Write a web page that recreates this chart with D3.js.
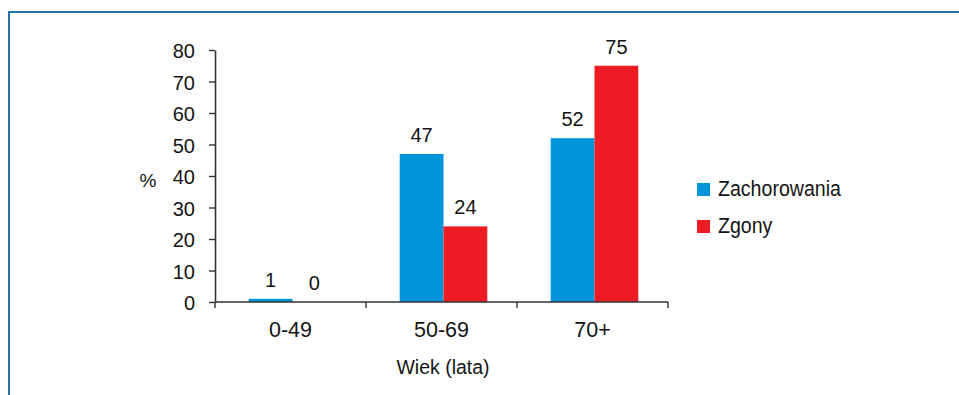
<!DOCTYPE html>
<html>
<head>
<meta charset="utf-8">
<script src="https://cdn.jsdelivr.net/npm/d3@7"></script>
<style>
  html, body { margin: 0; padding: 0; background: #fff; }
  svg { display: block; }
  text { font-family: "Liberation Sans", Arial, sans-serif; fill: #141414; }
</style>
</head>
<body>
<svg id="chart" width="959" height="395"></svg>
<script>
// Age groups and the share (%) of cases and deaths in each
const categories = ["0-49", "50-69", "70+"];
const seriesNames = ["Zachorowania", "Zgony"];
const zachorowania = [1, 47, 52];
const zgony = [0, 24, 75];
const yTicks = [0, 10, 20, 30, 40, 50, 60, 70, 80];
const colors = ["#0095da", "#ed1c24"];

const rows = categories.map((c, i) => ({ cat: c, values: [zachorowania[i], zgony[i]] }));

const svg = d3.select("#chart");

// Outer frame (left and top edges visible)
svg.append("path")
  .attr("d", "M9,395 L9,12 L959,12")
  .attr("fill", "none")
  .attr("stroke", "#2474a2")
  .attr("stroke-width", 2);

const x0 = d3.scaleBand().domain(categories).range([215, 668]).paddingInner(0.42).paddingOuter(0.21);
const x1 = d3.scaleBand().domain(seriesNames).range([0, x0.bandwidth()]);
const y = d3.scaleLinear().domain([0, 80]).range([302, 50]);

// Bars
const groups = svg.append("g").selectAll("g").data(rows).join("g")
  .attr("transform", d => `translate(${x0(d.cat) + 2},0)`);

groups.selectAll("rect").data(d => d.values.map((v, j) => ({ v, j })))
  .join("rect")
  .attr("x", d => x1(seriesNames[d.j]))
  .attr("width", x1.bandwidth())
  .attr("y", d => y(d.v))
  .attr("height", d => y(0) - y(d.v))
  .attr("fill", d => colors[d.j]);

groups.selectAll("text").data(d => d.values.map((v, j) => ({ v, j })))
  .join("text")
  .attr("x", d => x1(seriesNames[d.j]) + x1.bandwidth() / 2)
  .attr("y", d => y(d.v) - 12)
  .attr("text-anchor", "middle")
  .attr("font-size", 20)
  .text(d => d.v);

// Y axis
const yAxis = svg.append("g")
  .attr("transform", "translate(215,0)")
  .call(d3.axisLeft(y).tickValues(yTicks).tickSize(6).tickPadding(14).tickSizeOuter(0));
yAxis.select(".domain").attr("stroke", "#333").attr("stroke-width", 1.6);
yAxis.selectAll(".tick line").attr("stroke", "#333").attr("stroke-width", 1.4);
yAxis.selectAll(".tick text")
  .attr("font-size", 20)
  .attr("font-family", "Liberation Sans, Arial, sans-serif")
  .attr("fill", "#141414")
  .attr("dy", "0.38em");

// X axis with ticks at category boundaries
const [xStart, xEnd] = x0.range();
const halfGap = x0.step() * x0.paddingInner() / 2;
const boundaries = categories.map(c => x0(c) - halfGap);
boundaries.push(xEnd);
const xg = svg.append("g");
xg.append("line")
  .attr("x1", xStart).attr("x2", xEnd)
  .attr("y1", y(0)).attr("y2", y(0))
  .attr("stroke", "#333").attr("stroke-width", 1.6);
xg.selectAll("line.tick").data(boundaries).join("line")
  .attr("class", "tick")
  .attr("x1", d => d).attr("x2", d => d)
  .attr("y1", y(0)).attr("y2", y(0) + 6)
  .attr("stroke", "#333").attr("stroke-width", 1.4);
xg.selectAll("text").data(categories).join("text")
  .attr("x", d => x0(d) + x0.bandwidth() / 2)
  .attr("y", 337)
  .attr("text-anchor", "middle")
  .attr("font-size", 21.5)
  .text(d => d);

// Axis titles
svg.append("text")
  .attr("x", 148).attr("y", 187)
  .attr("text-anchor", "middle")
  .attr("font-size", 19)
  .text("%");
svg.append("text")
  .attr("x", 443).attr("y", 374)
  .attr("text-anchor", "middle")
  .attr("font-size", 19.5)
  .text("Wiek (lata)");

// Legend
const legend = svg.append("g").selectAll("g").data(seriesNames).join("g")
  .attr("transform", (d, i) => `translate(697,${183 + i * 37})`);
legend.append("rect")
  .attr("width", 13).attr("height", 13)
  .attr("fill", (d, i) => colors[i]);
legend.append("text")
  .attr("transform", "translate(21,13) scale(0.89,1)")
  .attr("font-size", 22)
  .text(d => d);
</script>
</body>
</html>
